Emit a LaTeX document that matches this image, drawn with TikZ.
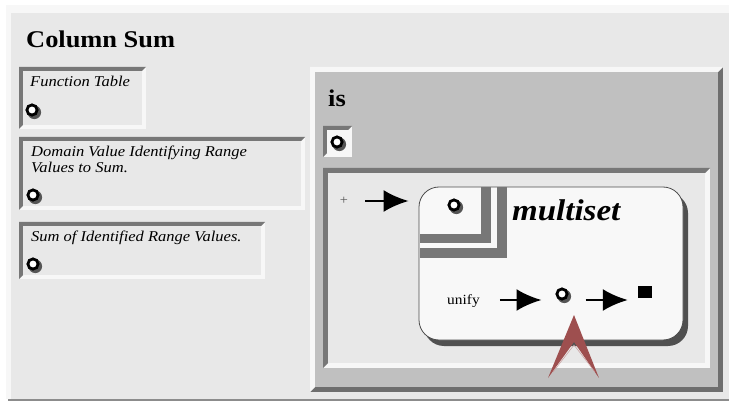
\documentclass[tikz,border=0pt]{standalone}
\usepackage{fontspec}
\setmainfont{Liberation Serif}[FakeStretch=1.1]
\usetikzlibrary{arrows.meta,calc}
\definecolor{panel}{HTML}{E8E8E8}
\definecolor{hilite}{HTML}{F7F7F7}
\definecolor{dkedge}{HTML}{777777}
\definecolor{ispanel}{HTML}{C0C0C0}
\definecolor{isedge}{HTML}{6E6E6E}
\definecolor{msfill}{HTML}{F8F8F8}
\definecolor{msshadow}{HTML}{505050}
\definecolor{markred}{HTML}{9E4F4F}
\definecolor{portshadow}{HTML}{555555}
\definecolor{plusgray}{HTML}{555555}

% bevelled frame: x1 y1 x2 y2 top-left-colour bottom-right-colour width fill
\newcommand{\bevelframe}[8]{%
  \fill[#6] (#1,#2) rectangle (#3,#4);
  \fill[#5] (#1,#4) -- (#1,#2) -- (#3,#2) -- ({#3-#7},{#2+#7}) -- ({#1+#7},{#2+#7}) -- ({#1+#7},{#4-#7}) -- cycle;
  \fill[#8] ({#1+#7},{#2+#7}) rectangle ({#3-#7},{#4-#7});}

% port circle with shadow: name x y
\newcommand{\portat}[3]{%
  \fill[portshadow] ({#2+2.3},{#3+2.3}) circle[radius=6.8pt];
  \node[port] (#1) at (#2,#3) {};}

\tikzset{
  port/.style={circle, draw=black, line width=2.8pt, fill=white, minimum size=10.2pt, inner sep=0pt},
  boxtext/.style={anchor=base west, inner sep=0pt, font=\fontsize{15}{16}\selectfont\itshape, align=left},
  title/.style={anchor=base west, inner sep=0pt, font=\fontsize{24}{24}\selectfont\bfseries},
  arr/.style={line width=2.6pt, -{Latex[length=25pt,width=22pt]}},
}

\begin{document}
\begin{tikzpicture}[x=1pt,y=-1pt]
\useasboundingbox (0,0) rectangle (729,401);
\fill[white] (0,0) rectangle (729,401);
% main panel
\fill[hilite] (6,5) rectangle (729,399);
\fill[panel] (11,13) rectangle (729,399);
\fill[black!45] (8,399) rectangle (729,401);

\node[title] (title) at (26,48) {Column Sum};

% left boxes
\bevelframe{19}{67}{146}{129}{dkedge}{hilite}{4}{panel}
\node[boxtext] (ft) at (30,87) {Function Table};
\portat{p1}{32}{110}

\bevelframe{19}{137}{305}{210}{dkedge}{hilite}{4}{panel}
\node[boxtext] (dv) at (31,173) {Domain Value Identifying Range\\Values to Sum.};
\portat{p2}{33}{195}

\bevelframe{19}{222}{265}{279}{dkedge}{hilite}{4}{panel}
\node[boxtext] (si) at (31,242) {Sum of Identified Range Values.};
\portat{p3}{33}{264}

% is panel
\bevelframe{310}{67}{723}{392}{hilite}{isedge}{5}{ispanel}
\node[title] (is) at (328,107) {is};
\bevelframe{323}{126}{352}{157}{dkedge}{hilite}{4}{hilite}
\portat{p4}{337}{142}

\bevelframe{323}{168}{710}{368}{dkedge}{hilite}{5}{panel}
\node[inner sep=0pt, text=plusgray, font=\fontsize{13}{13}\selectfont] (plus) at (344,201) {+};

% multiset box
\fill[msshadow, rounded corners=20pt] (424,193) rectangle (688,346);
\node[draw=black!70, line width=0.8pt, fill=msfill, rounded corners=20pt,
      minimum width=264pt, minimum height=153pt, inner sep=0pt] (ms) at (551,263.5) {};
\fill[dkedge] (481,187.5) rectangle (491,243);
\fill[dkedge] (419.5,234) rectangle (491,243);
\fill[dkedge] (497,187.5) rectangle (507,258);
\fill[dkedge] (419.5,248) rectangle (507,258);
\portat{p5}{454}{205}
\node[anchor=base west, inner sep=0pt, font=\fontsize{30}{30}\selectfont\bfseries\itshape] (mstitle) at (512,221) {multiset};

\node[anchor=base west, inner sep=0pt, font=\fontsize{14}{14}\selectfont] (unify) at (447,304) {unify};
\portat{p6}{562}{294}
\node[fill=black, inner sep=0pt, minimum width=14pt, minimum height=12pt] (stop) at (645,292) {};

\coordinate (row) at (0,300);
\draw[arr, shorten <=17pt, shorten >=10pt] (plus.east) -- (plus.east -| ms.west);
\draw[arr, shorten <=20pt, shorten >=14pt] (unify.east |- row) -- (p6.west |- row);
\draw[arr, shorten <=17pt, shorten >=10pt] (p6.east |- row) -- (stop.west |- row);

% red marker
\fill[markred] (574,315) -- (599,378) -- (574,342) -- (548,378) -- cycle;
\draw[markred!55!white, line width=0.5pt] (553,372) -- (574,345) -- (595,372);
\end{tikzpicture}
\end{document}
